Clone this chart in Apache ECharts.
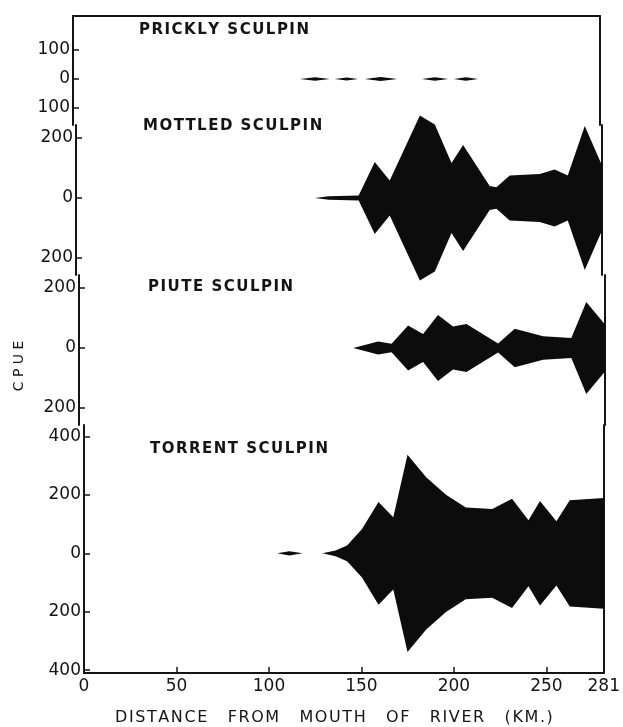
<!DOCTYPE html>
<html>
<head>
<meta charset="utf-8">
<script src="https://cdn.jsdelivr.net/npm/echarts@6/dist/echarts.min.js"></script>
<style>
html,body{margin:0;padding:0;background:#fff;}
#chart{width:623px;height:727px;}
</style>
</head>
<body>
<div id="chart"></div>
<script>
// ---- data (distance from mouth of river in km, CPUE half-width of kite) ----
const kmTicks = [0, 50, 100, 150, 200, 250, 281];
const speciesNames = ['PRICKLY SCULPIN', 'MOTTLED SCULPIN', 'PIUTE SCULPIN', 'TORRENT SCULPIN'];
const xAxisTitle = 'DISTANCE FROM MOUTH OF RIVER (KM.)';
const yAxisTitle = 'CPUE';

const pricklyKm   = [121, 129, 137, 139.5, 146, 152, 155.5, 164, 173, 186, 193, 200, 203, 209.5, 216];
const pricklyCpue = [0,   6,   0,   0,     5,   0,   0,     7,   0,   0,   6,   0,   0,   6,     0];

const mottledKm   = [127.6, 135, 151, 159.6, 167.6, 183.7, 191.7, 200.6, 206.8, 221, 224.6, 231.7, 247.7, 255.7, 262.7, 271.8, 281];
const mottledCpue = [0,     6,   8,   120,   58,    275,   245,   117,   177,   40,  36,    75,    80,    95,    75,    240,   108];

const piuteKm   = [146.5, 159.8, 167, 175.8, 183.8, 191.8, 199.8, 207, 223.9, 232.8, 247.9, 263, 271, 281];
const piuteCpue = [0,     22,    14,  75,    47,    110,   72,    80,  15,    64,    39,    33,  153, 78];

const torrentKm   = [104.4, 111, 118.2, 128.9, 136, 142.2, 150.3, 159.2, 167.2, 174.9, 185, 195.7, 206.4, 220.7, 231.4, 240.3, 246.5, 255.4, 262.6, 281];
const torrentCpue = [0,     7,   0,     0,     10,  27,    83,    176,   124,   338,   261, 201,   157,   152,   187,   113,   179,   110,   182,   190];

const yTickValues = [[-100, 0, 100], [-200, 0, 200], [-200, 0, 200], [-400, -200, 0, 200, 400]];

// ---- layout (pixels) ----
const panels = [
  {left: 73, right: 600, top: 16,  bottom: 125, zero: 79,  ppu: 0.29},
  {left: 76, right: 602, top: 125, bottom: 275, zero: 198, ppu: 0.30},
  {left: 79, right: 605, top: 275, bottom: 425, zero: 348, ppu: 0.30},
  {left: 84, right: 609, top: 425, bottom: 682, zero: 558, ppu: 0.3025}
];
const titlePos = [[139, 32], [143, 128], [148, 289], [150, 451]];

const seriesKm = [pricklyKm, mottledKm, piuteKm, torrentKm];
const seriesCpue = [pricklyCpue, mottledCpue, piuteCpue, torrentCpue];

const INK = '#141414';
const FONT = '"DejaVu Sans", sans-serif';
const HAIR = '\u200A';
// letter-spaced lettering like the hand-lettered original
const spaced = (s, wordGap) => s.split(' ').map(w => w.split('').join(HAIR)).join(wordGap);

const grids = [], xAxes = [], yAxes = [], series = [];
panels.forEach((p, i) => {
  grids.push({left: p.left, top: p.top, width: p.right - p.left, height: p.bottom - p.top, containLabel: false});
  const isBottom = i === panels.length - 1;
  const isTop = i === 0;
  xAxes.push({
    type: 'value', gridIndex: i, min: 0, max: 281, interval: 50,
    position: isTop ? 'top' : 'bottom',
    show: isTop || isBottom,
    axisLine: {show: true, onZero: false, lineStyle: {color: INK, width: 2}},
    axisTick: {show: isBottom, inside: true, length: 6, lineStyle: {color: INK, width: 1.5},
               customValues: kmTicks.slice(1, -1)},
    axisLabel: {show: isBottom, customValues: kmTicks, color: INK, fontFamily: FONT, fontSize: 17, margin: 5},
    splitLine: {show: false},
    name: isBottom ? spaced(xAxisTitle, '    ') : '',
    nameLocation: 'middle', nameGap: 37,
    nameTextStyle: {color: INK, fontFamily: FONT, fontSize: 16, padding: [0, 20, 0, 0]}
  });
  const ymin = -(p.bottom - p.zero) / p.ppu;
  const ymax = (p.zero - p.top) / p.ppu;
  yAxes.push({
    type: 'value', gridIndex: i, min: ymin, max: ymax, position: 'left',
    axisLine: {show: true, onZero: false, lineStyle: {color: INK, width: 2}},
    axisTick: {show: true, inside: true, length: 6, customValues: yTickValues[i], lineStyle: {color: INK, width: 1.5}},
    axisLabel: {customValues: yTickValues[i], formatter: v => String(Math.abs(v)),
                color: INK, fontFamily: FONT, fontSize: 17, margin: 3},
    splitLine: {show: false}
  });
  yAxes.push({
    type: 'value', gridIndex: i, min: ymin, max: ymax, position: 'right',
    axisLine: {show: true, onZero: false, lineStyle: {color: INK, width: 2}},
    axisTick: {show: false}, axisLabel: {show: false}, splitLine: {show: false}
  });
  const km = seriesKm[i], cp = seriesCpue[i];
  // kite: one closed polygon, upper edge +cpue, lower edge -cpue, mapped through the axes
  series.push({
    type: 'custom', xAxisIndex: i, yAxisIndex: 2 * i, silent: true, animation: false,
    data: km.map((k, j) => [k, cp[j]]),
    renderItem: (params, api) => {
      if (params.dataIndex !== 0) return null;
      const upper = km.map((k, j) => api.coord([k, cp[j]]));
      const lower = km.map((k, j) => api.coord([k, -cp[j]])).reverse();
      return {type: 'polygon', shape: {points: upper.concat(lower)},
              style: {fill: '#0c0c0c', stroke: null, lineWidth: 0}};
    }
  });
});

const graphics = speciesNames.map((n, i) => ({
  type: 'text', left: titlePos[i][0], top: titlePos[i][1] - 9,
  style: {text: spaced(n, ' ' + HAIR + HAIR), fill: INK, font: 'bold 15px ' + FONT}
}));
graphics.push({
  type: 'text', x: 19, y: 366, rotation: Math.PI / 2,
  style: {text: yAxisTitle.split('').join(' '), fill: INK, font: '14px ' + FONT, align: 'center', verticalAlign: 'middle'}
});

const chart = echarts.init(document.getElementById('chart'), null, {renderer: 'canvas'});
chart.setOption({
  backgroundColor: '#ffffff',
  animation: false,
  grid: grids, xAxis: xAxes, yAxis: yAxes, series: series,
  graphic: graphics
});
</script>
</body>
</html>
